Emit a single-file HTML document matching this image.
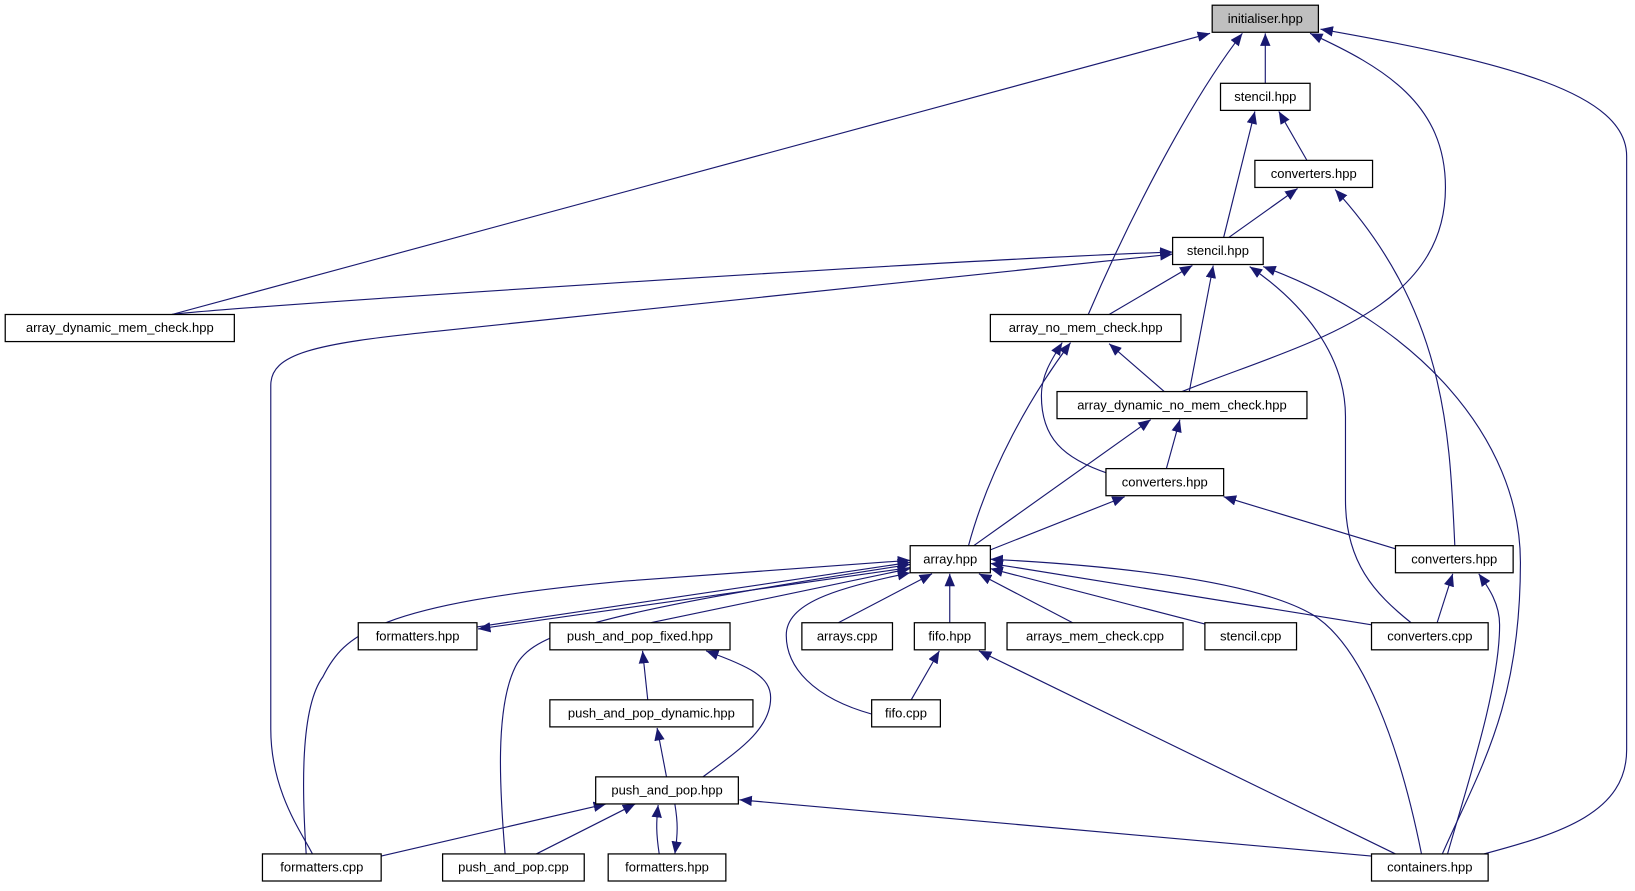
<!DOCTYPE html>
<html><head><meta charset="utf-8"><style>
html,body{margin:0;padding:0;background:#fff;}
svg{display:block;}
text{font-family:"Liberation Sans",sans-serif;font-size:12.5px;fill:#000;}
.e{fill:none;stroke:#191970;stroke-width:1.1;}
.n{fill:#fff;stroke:#000;stroke-width:1.2;}
</style></head><body>
<svg width="1635" height="891" viewBox="0 0 1570 855.6" xmlns="http://www.w3.org/2000/svg">
<defs>
<marker id="a" markerUnits="userSpaceOnUse" markerWidth="14" markerHeight="10" refX="12" refY="5" orient="auto">
<path d="M0,0 L12,5 L0,10 z" fill="#191970"/>
</marker>
</defs>
<g marker-end="url(#a)">
<path class="e" d="M165,302 L1162,32"/>
<path class="e" d="M1045,302 C1080,220 1140,100 1193,32"/>
<path class="e" d="M1215,80 L1215,32"/>
<path class="e" d="M1135,376 C1250,330 1388,300 1388,180 C1388,100 1330,65 1258,32"/>
<path class="e" d="M1425,820 C1500,800 1562,780 1562,720 L1562,150 C1562,90 1450,60 1268,28"/>
<path class="e" d="M1175,228 L1205,107"/>
<path class="e" d="M1255,154 L1228,107"/>
<path class="e" d="M1180,228 L1246,181"/>
<path class="e" d="M1397,524 C1392,420 1390,300 1282,182"/>
<path class="e" d="M165,302 C200,296 900,250 1126,242"/>
<path class="e" d="M300,820 C290,800 260,760 260,700 L260,370 C260,340 300,330 420,318 L1126,244"/>
<path class="e" d="M1065,302 L1145,255"/>
<path class="e" d="M1142,376 L1165,255"/>
<path class="e" d="M1355,598 C1320,570 1292,540 1292,480 L1292,400 C1292,340 1250,290 1200,256"/>
<path class="e" d="M1385,820 C1420,740 1460,680 1460,540 C1460,420 1360,310 1213,256"/>
<path class="e" d="M930,524 C950,450 990,380 1028,329"/>
<path class="e" d="M1065,455 C1020,440 1000,420 1000,380 C1000,360 1010,345 1020,329"/>
<path class="e" d="M1118,376 L1065,330"/>
<path class="e" d="M1120,450 L1133,403"/>
<path class="e" d="M935,524 L1105,403"/>
<path class="e" d="M951,528 L1080,477"/>
<path class="e" d="M1340,527 L1175,477"/>
<path class="e" d="M1380,598 L1395,551"/>
<path class="e" d="M1390,820 C1410,750 1440,660 1440,600 C1440,580 1430,565 1420,551"/>
<path class="e" d="M458,602 L874,540"/>
<path class="e" d="M874,545 L459,604"/>
<path class="e" d="M294,820 C290,760 288,680 310,650 C330,610 360,580 600,558 L874,538"/>
<path class="e" d="M485,820 C480,760 475,680 495,640 C510,610 560,590 874,542"/>
<path class="e" d="M625,598 L874,546"/>
<path class="e" d="M805,598 L895,551"/>
<path class="e" d="M912,598 L912,551"/>
<path class="e" d="M838,686 C780,670 755,640 755,610 C755,580 800,565 874,550"/>
<path class="e" d="M1030,598 L940,551"/>
<path class="e" d="M1160,600 L951,546"/>
<path class="e" d="M1317,600 L951,541"/>
<path class="e" d="M1365,820 C1345,720 1310,620 1260,590 C1200,555 1050,542 951,537"/>
<path class="e" d="M875,672 L902,625"/>
<path class="e" d="M1340,820 L940,625"/>
<path class="e" d="M622,672 L617,625"/>
<path class="e" d="M675,746 C710,720 740,700 740,670 C740,650 720,640 678,625"/>
<path class="e" d="M640,746 L631,699"/>
<path class="e" d="M366,822 L582,772"/>
<path class="e" d="M515,820 L610,772"/>
<path class="e" d="M633,820 C630,800 630,790 632,773"/>
<path class="e" d="M648,772 C651,790 651,800 648,820"/>
<path class="e" d="M1317,822 L710,768"/>
</g>
<g>
<rect x="1164" y="5" width="102" height="26" fill="#bfbfbf" stroke="#000" stroke-width="1.2"/><text x="1215" y="22" text-anchor="middle">initialiser.hpp</text>
<rect class="n" x="1172" y="80" width="86" height="26"/><text x="1215" y="97" text-anchor="middle">stencil.hpp</text>
<rect class="n" x="1205" y="154" width="113" height="26"/><text x="1261.5" y="171" text-anchor="middle">converters.hpp</text>
<rect class="n" x="1126" y="228" width="87" height="26"/><text x="1169.5" y="245" text-anchor="middle">stencil.hpp</text>
<rect class="n" x="5" y="302" width="220" height="26"/><text x="115" y="319" text-anchor="middle">array_dynamic_mem_check.hpp</text>
<rect class="n" x="951" y="302" width="183" height="26"/><text x="1042.5" y="319" text-anchor="middle">array_no_mem_check.hpp</text>
<rect class="n" x="1015" y="376" width="240" height="26"/><text x="1135" y="393" text-anchor="middle">array_dynamic_no_mem_check.hpp</text>
<rect class="n" x="1062" y="450" width="113" height="26"/><text x="1118.5" y="467" text-anchor="middle">converters.hpp</text>
<rect class="n" x="874" y="524" width="77" height="26"/><text x="912.5" y="541" text-anchor="middle">array.hpp</text>
<rect class="n" x="1340" y="524" width="113" height="26"/><text x="1396.5" y="541" text-anchor="middle">converters.hpp</text>
<rect class="n" x="344" y="598" width="114" height="26"/><text x="401" y="615" text-anchor="middle">formatters.hpp</text>
<rect class="n" x="528" y="598" width="173" height="26"/><text x="614.5" y="615" text-anchor="middle">push_and_pop_fixed.hpp</text>
<rect class="n" x="770" y="598" width="87" height="26"/><text x="813.5" y="615" text-anchor="middle">arrays.cpp</text>
<rect class="n" x="878" y="598" width="68" height="26"/><text x="912" y="615" text-anchor="middle">fifo.hpp</text>
<rect class="n" x="967" y="598" width="169" height="26"/><text x="1051.5" y="615" text-anchor="middle">arrays_mem_check.cpp</text>
<rect class="n" x="1157" y="598" width="88" height="26"/><text x="1201" y="615" text-anchor="middle">stencil.cpp</text>
<rect class="n" x="1317" y="598" width="112" height="26"/><text x="1373" y="615" text-anchor="middle">converters.cpp</text>
<rect class="n" x="528" y="672" width="195" height="26"/><text x="625.5" y="689" text-anchor="middle">push_and_pop_dynamic.hpp</text>
<rect class="n" x="837" y="672" width="66" height="26"/><text x="870" y="689" text-anchor="middle">fifo.cpp</text>
<rect class="n" x="572" y="746" width="137" height="26"/><text x="640.5" y="763" text-anchor="middle">push_and_pop.hpp</text>
<rect class="n" x="252" y="820" width="114" height="26"/><text x="309" y="837" text-anchor="middle">formatters.cpp</text>
<rect class="n" x="425" y="820" width="136" height="26"/><text x="493" y="837" text-anchor="middle">push_and_pop.cpp</text>
<rect class="n" x="584" y="820" width="113" height="26"/><text x="640.5" y="837" text-anchor="middle">formatters.hpp</text>
<rect class="n" x="1317" y="820" width="112" height="26"/><text x="1373" y="837" text-anchor="middle">containers.hpp</text>
</g>
</svg>
</body></html>
